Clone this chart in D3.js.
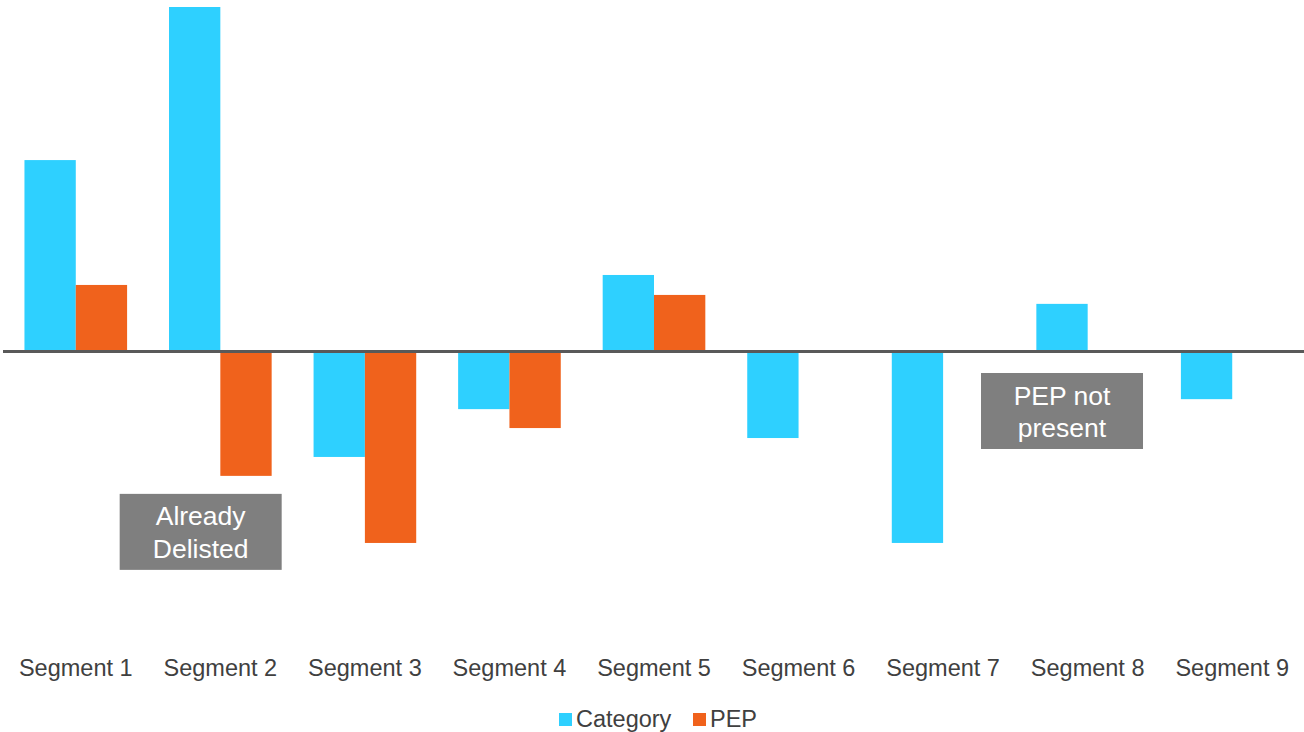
<!DOCTYPE html>
<html>
<head>
<meta charset="utf-8">
<script src="https://cdn.jsdelivr.net/npm/d3@7"></script>
<style>
  html, body { margin: 0; padding: 0; background: #fff; }
  svg { display: block; font-family: "Liberation Sans", Arial, sans-serif; }
</style>
</head>
<body>
<svg id="chart" width="1304" height="732"></svg>
<script>
// Data (arbitrary units, zero = baseline)
const segments = ['Segment 1', 'Segment 2', 'Segment 3', 'Segment 4', 'Segment 5',
                  'Segment 6', 'Segment 7', 'Segment 8', 'Segment 9'];
const seriesNames = ['Category', 'PEP'];
const categoryValues = [5.55, 10.0, -3.08, -1.69, 2.21, -2.53, -5.58, 1.37, -1.40];
const pepValues = [1.92, -3.63, -5.58, -2.24, 1.63, null, null, null, null];
const notes = [
  { segment: 'Segment 2', lines: ['Already', 'Delisted'] },
  { segment: 'Segment 8', lines: ['PEP not', 'present'] }
];

const W = 1304, H = 732;
const FONT = '"Liberation Sans", Arial, sans-serif';
const colors = { Category: '#2ED0FF', PEP: '#F0621C' };

const svg = d3.select('#chart');

const x = d3.scaleBand()
  .domain(segments)
  .range([3.5, 1304.5])
  .paddingInner(0.29)
  .paddingOuter(0.145);

const xs = d3.scaleBand()
  .domain(seriesNames)
  .range([0, x.bandwidth()]);

const y = d3.scaleLinear()
  .domain([-8, 10])
  .range([626.2, 7]);

const rows = segments.map((s, i) => ({
  segment: s,
  values: [
    { key: 'Category', value: categoryValues[i] },
    { key: 'PEP', value: pepValues[i] }
  ].filter(d => d.value !== null)
}));

// Bars
const groups = svg.append('g')
  .selectAll('g')
  .data(rows)
  .join('g')
  .attr('transform', d => `translate(${x(d.segment)},0)`);

groups.selectAll('rect')
  .data(d => d.values)
  .join('rect')
  .attr('x', d => xs(d.key))
  .attr('width', xs.bandwidth())
  .attr('y', d => y(Math.max(0, d.value)))
  .attr('height', d => Math.abs(y(d.value) - y(0)))
  .attr('fill', d => colors[d.key]);

// Zero line
svg.append('line')
  .attr('x1', 3).attr('x2', W)
  .attr('y1', y(0) + 0.5).attr('y2', y(0) + 0.5)
  .attr('stroke', '#595959')
  .attr('stroke-width', 3);

// Category axis labels
const xAxis = d3.axisBottom(x).tickSize(0).tickPadding(0);
svg.append('g')
  .attr('transform', 'translate(0,659.5)')
  .call(xAxis)
  .call(g => g.select('.domain').remove())
  .call(g => g.selectAll('text')
    .attr('font-size', 23.5)
    .attr('fill', '#404040')
    .attr('font-family', FONT));

// Annotation boxes
const noteW = 162, noteH = 76;
const noteG = svg.append('g')
  .selectAll('g')
  .data(notes)
  .join('g')
  .attr('transform', d => {
    const i = segments.indexOf(d.segment);
    const cx = x(d.segment) + xs('Category') + xs.bandwidth() / 2;
    const vals = [categoryValues[i], pepValues[i]].filter(v => v !== null);
    const low = Math.min(0, ...vals);
    const top = y(low) + (low < 0 ? 18 : 22);
    return `translate(${cx - noteW / 2 + (i === 1 ? 6 : 0)},${top})`;
  });

noteG.append('rect')
  .attr('width', noteW)
  .attr('height', noteH)
  .attr('fill', '#7F7F7F');

noteG.append('text')
  .attr('text-anchor', 'middle')
  .attr('fill', '#fff')
  .attr('font-size', 26.5)
  .attr('font-family', FONT)
  .selectAll('tspan')
  .data(d => d.lines)
  .join('tspan')
  .attr('x', noteW / 2)
  .attr('y', (d, i) => 31.5 + i * 32.5)
  .text(d => d);

// Legend
const legend = svg.append('g').attr('transform', 'translate(559,713)');
const legendX = { Category: 0, PEP: 134 };
const item = legend.selectAll('g')
  .data(seriesNames)
  .join('g')
  .attr('transform', d => `translate(${legendX[d]},0)`);
item.append('rect')
  .attr('width', 13).attr('height', 13)
  .attr('fill', d => colors[d]);
item.append('text')
  .attr('x', 17)
  .attr('y', 13.5)
  .attr('font-size', 23.5)
  .attr('font-family', FONT)
  .attr('fill', '#404040')
  .text(d => d);
</script>
</body>
</html>
